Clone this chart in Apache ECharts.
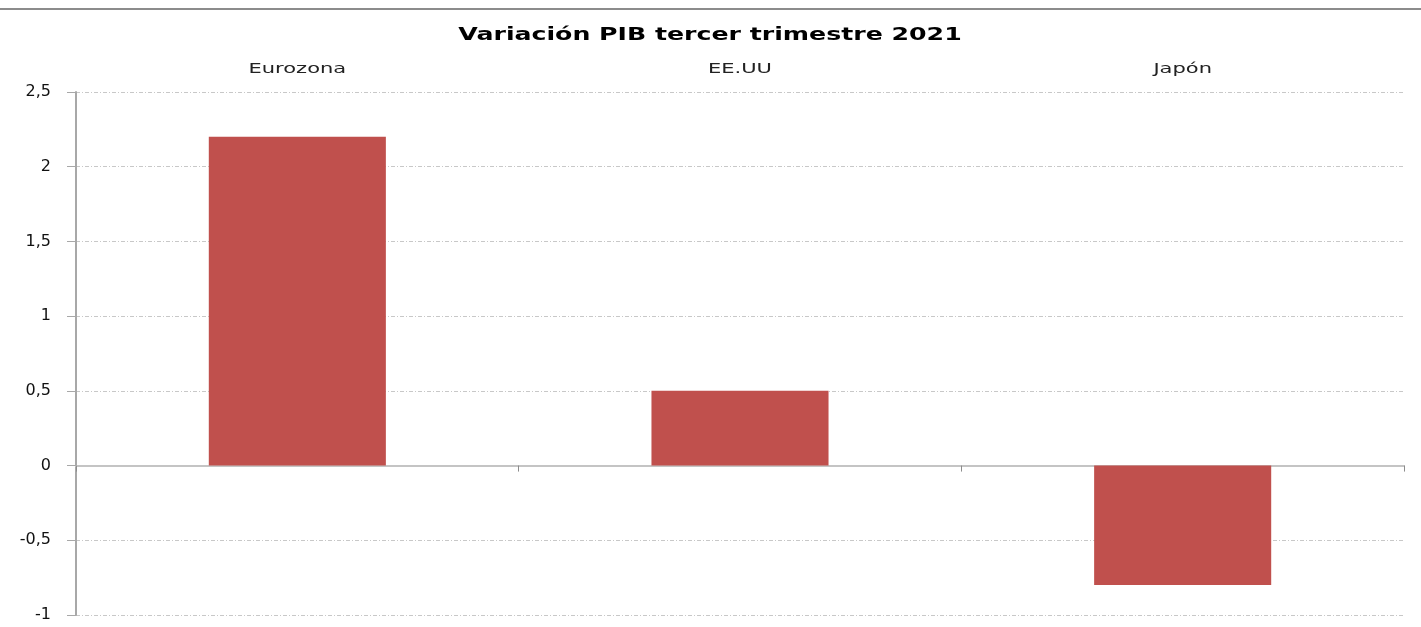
<!DOCTYPE html>
<html>
<head>
<meta charset="utf-8">
<script src="https://cdn.jsdelivr.net/npm/echarts@6/dist/echarts.min.js"></script>
<style>
  html, body { margin: 0; padding: 0; background: #fff; }
  #main { width: 1421px; height: 627px; }
</style>
</head>
<body>
<div id="main"></div>
<script>
var regiones = ['Eurozona', 'EE.UU', 'Japón'];
var variacion = [2.2, 0.5, -0.8];
var titulo = 'Variación PIB tercer trimestre 2021';

var myChart = echarts.init(document.getElementById('main'));

var option = {
    animation: false,
    grid: {
        left: 76,
        right: 17,
        top: 92,
        bottom: 12
    },
    xAxis: {
        type: 'category',
        data: regiones,
        axisLine: { onZero: true, lineStyle: { color: '#c4c4c4', width: 2 } },
        axisTick: { show: true, length: 6, lineStyle: { color: '#8c8c8c' } },
        axisLabel: { show: false }
    },
    yAxis: {
        type: 'value',
        min: -1,
        max: 2.5,
        interval: 0.5,
        axisLine: { show: true, lineStyle: { color: '#a8a8a8', width: 2 } },
        axisTick: { show: true, length: 9, lineStyle: { color: '#a8a8a8' } },
        axisLabel: {
            margin: 25,
            fontFamily: 'DejaVu Sans',
            fontSize: 16,
            color: '#111',
            formatter: function (v) {
                return String(v).replace('.', ',');
            }
        },
        splitLine: {
            lineStyle: { color: '#c8c8c8', type: [4, 2, 1, 2], width: 1 }
        }
    },
    series: [
        {
            type: 'bar',
            data: variacion,
            barCategoryGap: '60%',
            itemStyle: { color: '#C0504D' }
        }
    ]
};

myChart.setOption(option);

// el original está estirado en horizontal: título y categorías con scaleX
var textos = [
    {
        type: 'line',
        shape: { x1: 0, y1: 9, x2: 1421, y2: 9 },
        style: { stroke: '#8c8c8c', lineWidth: 2 }
    },
    {
        type: 'text',
        x: 710,
        y: 35,
        scaleX: 1.4,
        style: {
            text: titulo,
            font: 'bold 18px "DejaVu Sans"',
            fill: '#000',
            textAlign: 'center',
            textVerticalAlign: 'middle'
        }
    }
];
regiones.forEach(function (r) {
    var px = myChart.convertToPixel({ xAxisIndex: 0 }, r);
    textos.push({
        type: 'text',
        x: px,
        y: 69,
        scaleX: 1.5,
        style: {
            text: r,
            font: '14px "DejaVu Sans"',
            fill: '#222',
            textAlign: 'center',
            textVerticalAlign: 'middle'
        }
    });
});
myChart.setOption({ graphic: textos });
</script>
</body>
</html>
